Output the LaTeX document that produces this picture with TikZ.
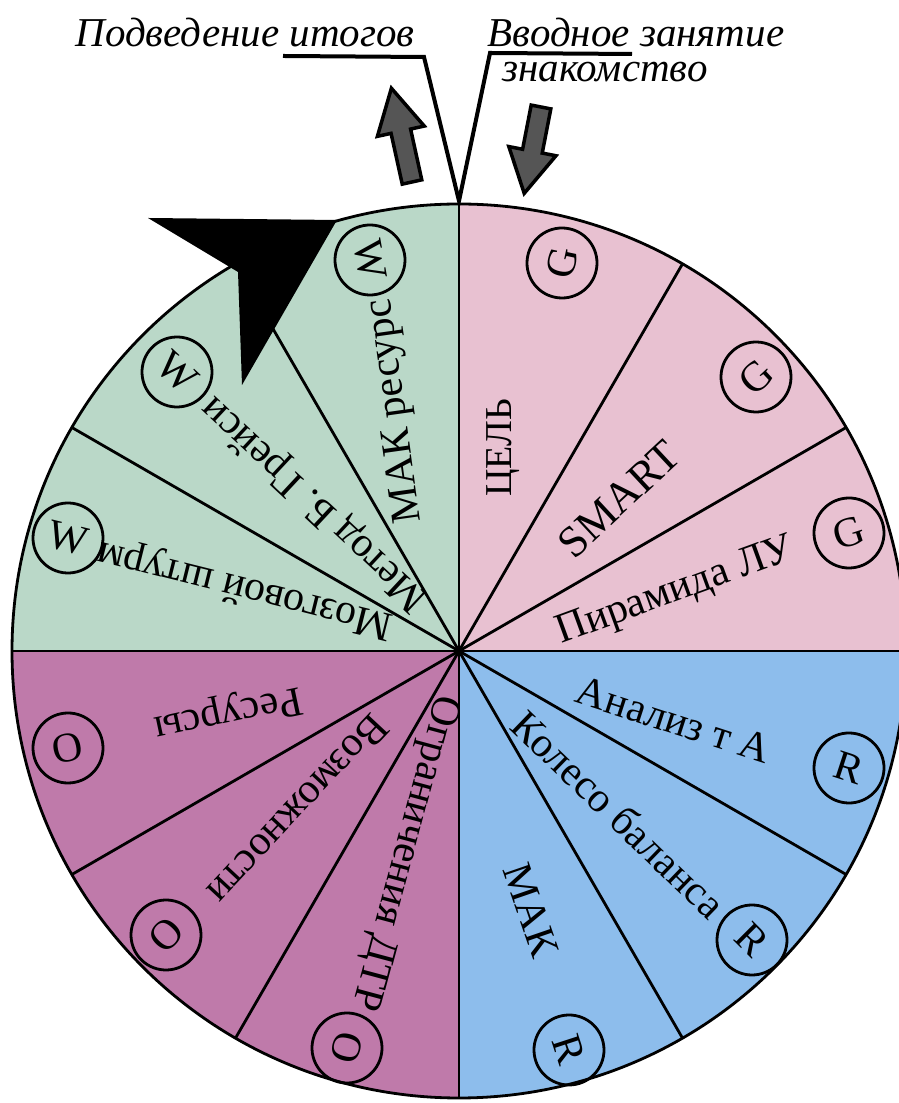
\documentclass[tikz,border=0pt]{standalone}
\usepackage{fontspec}
\setmainfont{Liberation Serif}
\usetikzlibrary{calc}
\definecolor{gpink}{RGB}{232,193,209}
\definecolor{gblue}{RGB}{141,189,236}
\definecolor{gpurple}{RGB}{191,122,170}
\definecolor{ggreen}{RGB}{186,216,200}
\definecolor{garrow}{RGB}{85,85,85}
\tikzset{
  seg/.style={font=\fontsize{42}{48}\selectfont, inner sep=0pt},
  letter/.style={circle, draw=black, line width=2.8pt, minimum size=70pt, inner sep=0pt, font=\fontsize{42}{50}\selectfont},
  divider/.style={line width=2.8pt, draw=black},
  toplabel/.style={font=\fontsize{41}{48}\selectfont\itshape, inner sep=0pt, anchor=base},
  callout/.style={line width=4pt, line join=miter, draw=black},
  bigarrow/.style={fill=garrow, draw=black, line width=3.5pt, line join=miter},
}
\begin{document}
\begin{tikzpicture}[x=1pt,y=1pt]
\useasboundingbox (0,0) rectangle (898,1103);
\fill[white] (0,0) rectangle (898,1103);
\coordinate (C) at (459,452);
% sectors
\fill[gpink]   (C) -- ++(0:447)   arc[start angle=0,  end angle=90, radius=447] -- cycle;
\fill[ggreen]  (C) -- ++(90:447)  arc[start angle=90, end angle=180,radius=447] -- cycle;
\fill[gpurple] (C) -- ++(180:447) arc[start angle=180,end angle=270,radius=447] -- cycle;
\fill[gblue]   (C) -- ++(270:447) arc[start angle=270,end angle=360,radius=447] -- cycle;
\foreach \a in {0,30,...,330} \draw[divider] (C) -- ++(\a:447);
\draw[divider] (C) circle[radius=447];
% letter circles
\node[letter, rotate=78]  (g1) at (562,840) {G};
\node[letter, rotate=43]  (g2) at (756,726) {G};
\node[letter, rotate=18]  (g3) at (849,570) {G};
\node[letter, rotate=-18] (r1) at (849,335) {R};
\node[letter, rotate=-45] (r2) at (752,163) {R};
\node[letter, rotate=-72] (r3) at (569,53)  {R};
\node[letter, rotate=192] (o1) at (68,355)  {O};
\node[letter, rotate=227] (o2) at (166,168) {O};
\node[letter, rotate=255] (o3) at (347,55)  {O};
\node[letter, rotate=-80] (w1) at (370,843) {W};
\node[letter, rotate=-43] (w2) at (177,731) {W};
\node[letter, rotate=-14] (w3) at (68,565)  {W};
% sector texts
\node[seg, rotate=90, font=\fontsize{38}{44}\selectfont]  (t1)  at (503,655) {ЦЕЛЬ};
\node[seg, rotate=43, font=\fontsize{44}{50}\selectfont]  (t2)  at (619,604) {SMART};
\node[seg, rotate=20]  (t3)  at (676,511) {Пирамида ЛУ};
\node[seg, rotate=-18] (t4)  at (674,383) {Анализ т А};
\node[seg, rotate=-44] (t5)  at (619,289) {Колесо баланса};
\node[seg, rotate=-71] (t6)  at (531,193) {МАК};
\node[seg, rotate=192] (t7)  at (228,391) {Ресурсы};
\node[seg, rotate=227] (t8)  at (298,293) {Возможности};
\node[seg, rotate=255] (t9)  at (404,250) {Ограничения ДТР};
\node[seg, rotate=98]  (t10) at (396,692) {МАК ресурс};
\node[seg, rotate=137] (t11) at (315,600) {Метод Б. Грейси};
\node[seg, rotate=166] (t12) at (245,515) {Мозговой штурм};
% black pointer
\fill[black] (148,885) -- (337,883) -- (242,718) -- (238,831) -- cycle;
% gray arrows
\begin{scope}[shift={(412,921)}, rotate=102.4]
  \draw[bigarrow] (0,-10) -- (52,-10) -- (52,-24) -- (96,0) -- (52,24) -- (52,10) -- (0,10) -- cycle;
\end{scope}
\begin{scope}[shift={(541,996)}, rotate=259]
  \draw[bigarrow] (0,-10) -- (45,-10) -- (45,-24) -- (88,0) -- (45,24) -- (45,10) -- (0,10) -- cycle;
\end{scope}
% callout lines
\coordinate (hub) at (459,902);
\coordinate (lk) at (424,1046);
\coordinate (le) at (283,1047);
\coordinate (rk) at (490,1050);
\coordinate (re) at (632,1049);
\draw[callout] (le) -- (lk) -- (hub) -- (rk) -- (re);
% labels
\node[toplabel] (lab1) at (245,1056) {Подведение итогов};
\node[toplabel] (lab2) at (636,1056) {Вводное занятие};
\node[toplabel] (lab3) at (605,1021) {знакомство};
\end{tikzpicture}
\end{document}
